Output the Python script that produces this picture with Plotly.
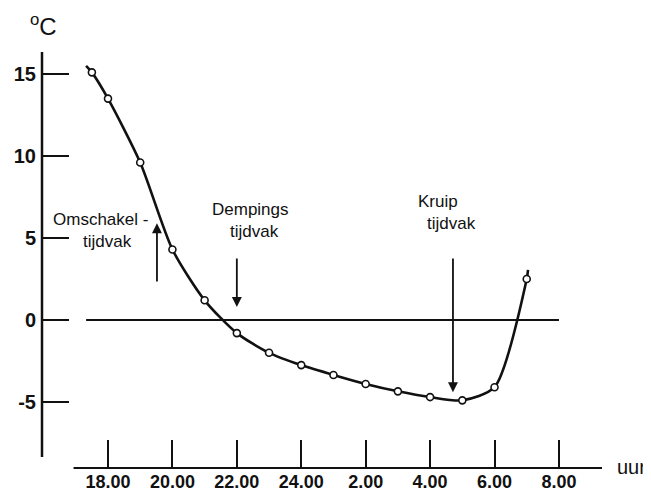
import plotly.graph_objects as go

# ---- data ----
hours = [17.5, 18, 19, 20, 21, 22, 23, 24, 25, 26, 27, 28, 29, 30, 31]
temps = [15.1, 13.5, 9.6, 4.3, 1.2, -0.8, -2.0, -2.75, -3.35, -3.9, -4.35, -4.7, -4.9, -4.1, 2.5]
curve_start = (17.32, 15.5)
curve_end = (31.04, 3.05)

x_tickvals = [18, 20, 22, 24, 26, 28, 30, 32]
x_ticktext = ["18.00", "20.00", "22.00", "24.00", "2.00", "4.00", "6.00", "8.00"]
y_tickvals = [-5, 0, 5, 10, 15]
y_ticktext = ["-5", "0", "5", "10", "15"]

zero_line_x = (17.32, 32.0)
y_axis_extent = (-8.35, 16.34)
x_axis_extent = (16.93, 33.34)

arrows = [
    # (x, tail_y, tip_y)
    (19.52, 2.26, 5.9),
    (22.0, 3.84, 0.8),
    (28.71, 3.84, -4.4),
]
labels = [
    ("Omschakel -", 17.77, 6.1),
    ("tijdvak", 17.99, 4.76),
    ("Dempings", 22.41, 6.71),
    ("tijdvak", 22.55, 5.37),
    ("Kruip", 28.23, 7.2),
    ("tijdvak", 28.66, 5.91),
]

BLACK = "#111111"
FONT = "Liberation Sans"

fig = go.Figure()

# smooth curve
fig.add_trace(go.Scatter(
    x=[curve_start[0]] + hours + [curve_end[0]],
    y=[curve_start[1]] + temps + [curve_end[1]],
    mode="lines",
    line=dict(color=BLACK, width=2.6, shape="spline", smoothing=0.7),
    hoverinfo="skip",
    showlegend=False,
))
# measurement points
fig.add_trace(go.Scatter(
    x=hours, y=temps, mode="markers",
    marker=dict(symbol="circle", size=7, color="white",
                line=dict(color=BLACK, width=1.6)),
    showlegend=False,
))

shapes = [
    dict(type="line", xref="x", yref="y", x0=zero_line_x[0], x1=zero_line_x[1],
         y0=0, y1=0, line=dict(color=BLACK, width=2), layer="below"),
    dict(type="line", xref="paper", yref="y", x0=0, x1=0,
         y0=y_axis_extent[0], y1=y_axis_extent[1], line=dict(color=BLACK, width=2.5)),
    dict(type="line", xref="x", yref="paper", x0=x_axis_extent[0], x1=x_axis_extent[1],
         y0=0, y1=0, line=dict(color=BLACK, width=2)),
]

annotations = []
for x, y0, y1 in arrows:
    annotations.append(dict(
        x=x, y=y1, ax=x, ay=y0, xref="x", yref="y", axref="x", ayref="y",
        text="", showarrow=True, arrowhead=2, arrowsize=1.1, arrowwidth=1.8,
        arrowcolor=BLACK,
    ))
for txt, x, y in labels:
    annotations.append(dict(
        x=x, y=y, xref="x", yref="y", text=txt, showarrow=False,
        font=dict(family=FONT, size=17, color=BLACK), xanchor="center", yanchor="middle",
    ))
annotations.append(dict(
    x=0, y=1, xref="paper", yref="paper", xshift=1, yshift=15,
    text="<sup>o</sup>C", showarrow=False,
    font=dict(family=FONT, size=24, color=BLACK), xanchor="center", yanchor="middle",
))
annotations.append(dict(
    xref="paper", yref="paper", x=1.0, y=0.0, xshift=29, yshift=1, text="uur",
    showarrow=False, font=dict(family=FONT, size=20, color=BLACK),
    xanchor="center", yanchor="middle",
))

# the page body adds an 8px offset, so the figure is 8px smaller than the window
fig.update_layout(
    width=643, height=485, autosize=False,
    margin=dict(l=34, r=49, t=32, b=25, pad=0, autoexpand=False),
    paper_bgcolor="white", plot_bgcolor="white",
    shapes=shapes, annotations=annotations,
    xaxis=dict(
        range=[15.951, 33.337], showgrid=False, zeroline=False, showline=False,
        automargin=False,
        tickmode="array", tickvals=x_tickvals, ticktext=x_ticktext,
        ticks="inside", ticklen=28, tickwidth=2, tickcolor=BLACK,
        ticklabelstandoff=1,
        tickfont=dict(family=FONT, size=18, color=BLACK, weight="bold"),
    ),
    yaxis=dict(
        range=[-9.024, 17.073], showgrid=False, zeroline=False, showline=False,
        automargin=False,
        tickmode="array", tickvals=y_tickvals, ticktext=y_ticktext,
        ticks="inside", ticklen=27, tickwidth=2, tickcolor=BLACK,
        ticklabelstandoff=5,
        tickfont=dict(family=FONT, size=20, color=BLACK, weight="bold"),
    ),
)

fig.write_html("out.html")
